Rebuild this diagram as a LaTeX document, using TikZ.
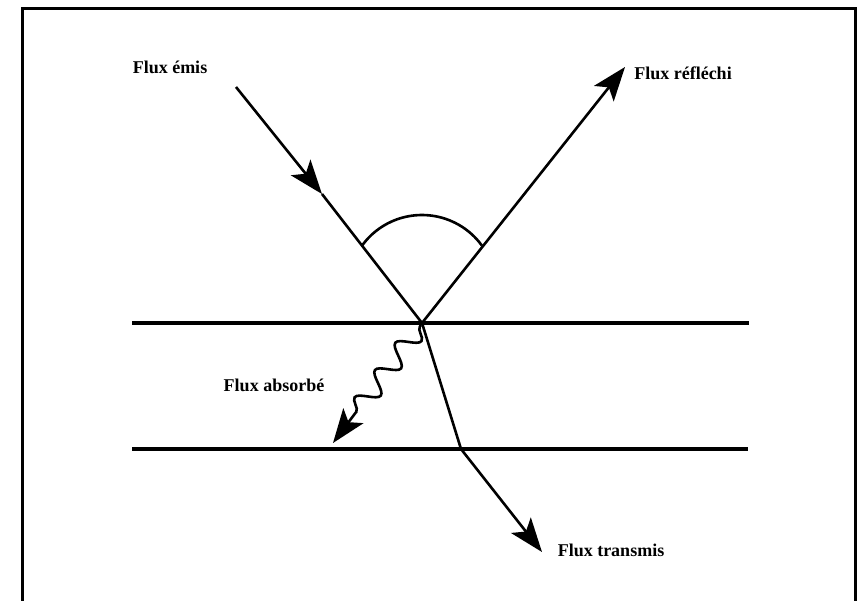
\documentclass[tikz,border=0pt]{standalone}
\usepackage{fontspec}
\setmainfont{Liberation Serif}
\usetikzlibrary{arrows.meta,decorations.pathmorphing}
\begin{document}
\begin{tikzpicture}[x=1pt,y=1pt,
  lbl/.style={font=\fontsize{18}{21}\selectfont\bfseries, inner sep=0pt},
  ray/.style={line width=2.6pt},
  surf/.style={line width=4pt},
  bigtip/.tip={Stealth[length=34pt,width=25pt,inset=8pt]}]
\useasboundingbox (0,0) rectangle (857,-600);
% frame
\draw[line width=3pt] (22,-602) -- (22,-8) -- (855,-8) -- (855,-602);
% points
\coordinate (C) at (422,-323);
\coordinate (E0) at (236,-87);
\coordinate (Emid) at (322,-194);
\coordinate (R) at (625,-67);
\coordinate (T1) at (461,-449);
\coordinate (T2) at (542,-552);
\coordinate (A) at (333,-443);
\coordinate (AS) at (421,-325);
% surfaces
\coordinate (S1a) at (132,-323); \coordinate (S1b) at (749,-323);
\coordinate (S2a) at (132,-449); \coordinate (S2b) at (748,-449);
\draw[surf] (S1a) -- (S1b);
\draw[surf] (S2a) -- (S2b);
% incident
\draw[ray,-bigtip] (E0) -- (Emid);
\draw[ray] (Emid) -- (C);
% reflected
\draw[ray,-bigtip] (C) -- (R);
% transmitted
\draw[ray,-bigtip] (C) -- (T1) -- (T2);
% absorbed
\draw[ray,-bigtip,decorate,decoration={snake,segment length=34pt,amplitude=10pt,pre length=2pt,post length=24pt}] (AS) -- (A);
% angle arc
\coordinate (ArcS) at (362.1,-245.5);
\draw[ray] (ArcS) arc[start angle=144,end angle=36,radius=74];
% labels
\node[lbl] (le) at (170,-67) {Flux émis};
\node[lbl] (lr) at (683,-73) {Flux réfléchi};
\node[lbl] (la) at (274,-385) {Flux absorbé};
\node[lbl] (lt) at (611,-550) {Flux transmis};
\end{tikzpicture}
\end{document}
